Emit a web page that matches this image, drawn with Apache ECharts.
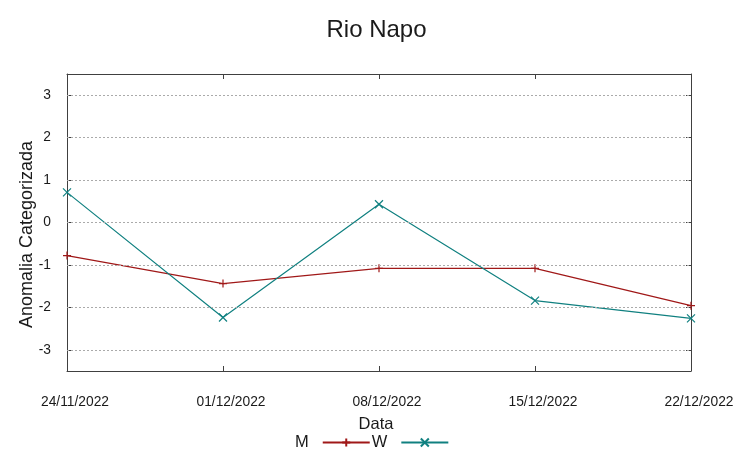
<!DOCTYPE html>
<html>
<head>
<meta charset="utf-8">
<script src="https://cdn.jsdelivr.net/npm/echarts@6/dist/echarts.min.js"></script>
<style>html,body{margin:0;padding:0;background:#fff;}#c{width:753px;height:459px;}</style>
</head>
<body>
<div id="c"></div>
<script>
const dates = ['24/11/2022', '01/12/2022', '08/12/2022', '15/12/2022', '22/12/2022'];
const seriesM = [-0.78, -1.44, -1.08, -1.08, -1.96];
const seriesW = [0.71, -2.24, 0.43, -1.84, -2.26];
const yTicks = [-3, -2, -1, 0, 1, 2, 3];

const FONT = '"Liberation Sans", Arial, sans-serif';
const AX = '#404040';
const chart = echarts.init(document.getElementById('c'), null, {renderer: 'canvas'});
const plus = 'path://M0,5L10,5M5,0L5,10';
const cross = 'path://M0,0L10,10M0,10L10,0';
chart.setOption({
  animation: false,
  backgroundColor: '#fff',
  title: {
    text: 'Rio Napo', left: 'center', top: 13,
    textStyle: {fontFamily: FONT, fontSize: 24, fontWeight: 'normal', color: '#1a1a1a'}
  },
  grid: {left: 67, right: 62, top: 74, bottom: 88},
  legend: {
    left: 295, top: 434, padding: 0, align: 'right', itemWidth: 47, itemHeight: 10, itemGap: 1,
    textStyle: {fontFamily: FONT, fontSize: 16.5, color: '#1a1a1a', padding: [0, 9, 2, 0]},
    data: ['M', 'W']
  },
  xAxis: [{
    type: 'category', data: dates, boundaryGap: false, position: 'bottom',
    name: 'Data', nameLocation: 'middle', nameGap: 45, nameMoveOverlap: false,
    nameTextStyle: {fontFamily: FONT, fontSize: 16.5, color: '#1a1a1a', padding: [0, 6, 0, 0]},
    axisLine: {show: true, onZero: false, lineStyle: {color: AX, width: 1}},
    axisTick: {show: true, inside: true, length: 5, lineStyle: {color: AX}},
    axisLabel: {fontFamily: FONT, fontSize: 13.8, color: '#1a1a1a', margin: 24, padding: [0, 0, 0, 16], showMinLabel: true, showMaxLabel: true, interval: 0},
    splitLine: {show: false}
  }, {
    type: 'category', data: dates, boundaryGap: false, position: 'top',
    axisLine: {show: true, onZero: false, lineStyle: {color: AX, width: 1}},
    axisTick: {show: true, inside: true, length: 5, lineStyle: {color: AX}},
    axisLabel: {show: false}, splitLine: {show: false}
  }],
  yAxis: [{
    type: 'value', min: -3.5, max: 3.5, interval: 1, position: 'left',
    name: 'Anomalia Categorizada', nameLocation: 'middle', nameGap: 31, nameMoveOverlap: false,
    nameTextStyle: {fontFamily: FONT, fontSize: 18, color: '#1a1a1a', padding: [0, 24, 0, 0]},
    axisLine: {show: true, onZero: false, lineStyle: {color: AX, width: 1}},
    axisTick: {show: true, inside: true, length: 5, lineStyle: {color: AX},
      customValues: yTicks},
    axisLabel: {fontFamily: FONT, fontSize: 13.8, color: '#1a1a1a', margin: 16,
      customValues: yTicks},
    splitLine: {show: false}
  }, {
    type: 'value', min: -3.5, max: 3.5, interval: 1, position: 'right',
    axisLine: {show: true, onZero: false, lineStyle: {color: AX, width: 1}},
    axisTick: {show: true, inside: true, length: 5, lineStyle: {color: AX},
      customValues: yTicks},
    axisLabel: {show: false}, splitLine: {show: false}
  }],
  series: [
    {
      name: 'grid', type: 'line', data: [], silent: true,
      markLine: {
        silent: true, symbol: 'none', label: {show: false},
        lineStyle: {color: '#aaaaaa', type: [2, 2], width: 1},
        data: yTicks.map(v => ({yAxis: v}))
      }
    },
    {
      name: 'M', type: 'line', data: seriesM, symbol: plus, symbolSize: 8,
      lineStyle: {color: '#a01818', width: 1.2},
      itemStyle: {color: 'transparent', borderColor: '#a01818', borderWidth: 1.2}
    },
    {
      name: 'W', type: 'line', data: seriesW, symbol: cross, symbolSize: 8,
      lineStyle: {color: '#108080', width: 1.2},
      itemStyle: {color: 'transparent', borderColor: '#108080', borderWidth: 1.2}
    }
  ]
});
</script>
</body>
</html>
